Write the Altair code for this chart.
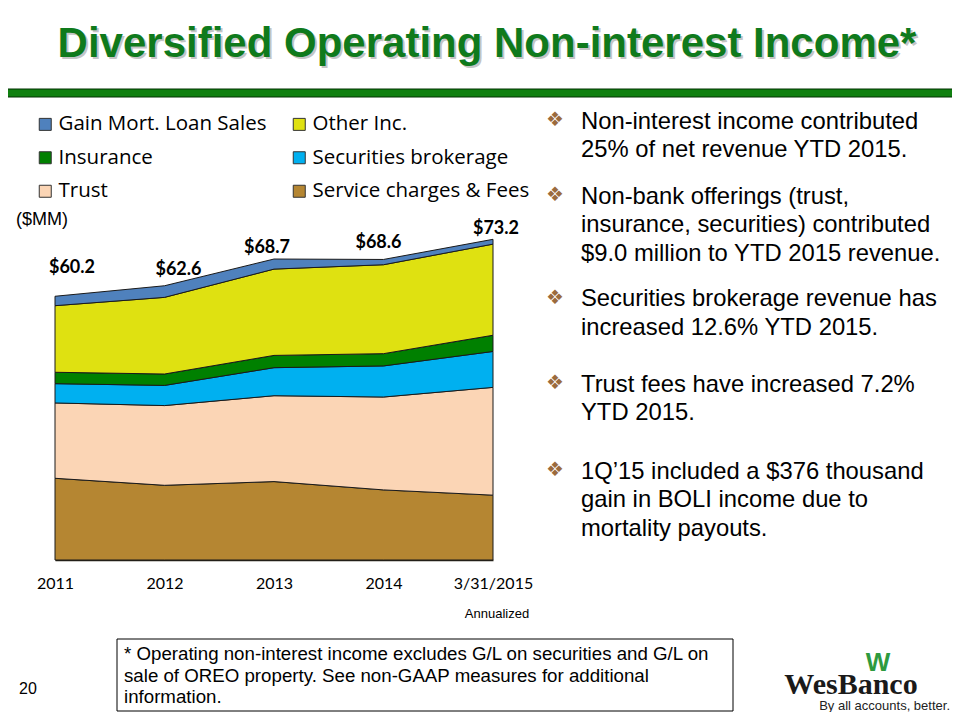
import altair as alt
import pandas as pd

# ---------------- data ----------------
YEARS = ["2011", "2012", "2013", "2014", "3/31/2015"]
SERVICE = [18.65, 17.05, 17.9, 16.0, 14.8]
TRUST = [17.2, 18.2, 19.6, 21.2, 24.6]
SECURITIES = [4.4, 4.6, 6.4, 7.1, 8.2]
INSURANCE = [2.6, 2.6, 2.8, 2.8, 3.7]
OTHER = [15.2, 17.5, 19.7, 20.3, 20.8]
GAIN = [2.15, 2.65, 2.3, 1.2, 1.1]
TOTALS = [60.2, 62.6, 68.7, 68.6, 73.2]

SERIES_NAMES = ["Service charges & Fees", "Trust", "Securities brokerage",
                "Insurance", "Other Inc.", "Gain Mort. Loan Sales"]
SERIES_VALUES = [SERVICE, TRUST, SECURITIES, INSURANCE, OTHER, GAIN]

# legend fills column by column: (Gain | Other), (Insurance | Securities), (Trust | Service)
LEGEND_ORDER = ["Gain Mort. Loan Sales", "Insurance", "Trust",
                "Other Inc.", "Securities brokerage", "Service charges & Fees"]
LEGEND_COLORS = ["#4F81BD", "#008000", "#FBD5B5", "#DFE111", "#00B0F0", "#B58632"]

rows = []
for si, (name, vals) in enumerate(zip(SERIES_NAMES, SERIES_VALUES)):
    for yr, v in zip(YEARS, vals):
        rows.append({"year": yr, "series": name, "value": v, "stack": si})
df = pd.DataFrame(rows)
tot_df = pd.DataFrame({"year": YEARS, "total": TOTALS,
                       "label": [f"${t:.1f}" for t in TOTALS]})

# ---------------- layout helpers ----------------
X0, Y0 = 55, 100          # page position of the plot origin
W, H = 438, 460


def px(x):
    return x - X0


def py(y):
    return y - Y0


x_enc = alt.X("year:N", sort=YEARS,
              scale=alt.Scale(type="point", padding=0),
              axis=alt.Axis(title=None, labelAngle=0, labelFont="Lato",
                            labelFontSize=16, labelColor="black", ticks=False,
                            domainColor="#2b2416", domainWidth=1.5,
                            labelPadding=15, grid=False))
y_enc = alt.Y("value:Q", stack="zero",
              scale=alt.Scale(domain=[0, 105], nice=False), axis=None)

areas = alt.Chart(df).mark_area(stroke="#1a1a1a", strokeWidth=1, opacity=1).encode(
    x=x_enc,
    y=y_enc,
    color=alt.Color("series:N",
                    scale=alt.Scale(domain=LEGEND_ORDER, range=LEGEND_COLORS),
                    legend=alt.Legend(title=None, orient="none",
                                      legendX=px(35), legendY=py(114),
                                      columns=2, symbolType="square",
                                      symbolSize=144, symbolStrokeColor="#333333",
                                      symbolStrokeWidth=1, symbolOpacity=1,
                                      labelFont="Open Sans", labelFontSize=20.5,
                                      labelColor="black", labelOffset=3,
                                      rowPadding=12.5, columnPadding=22,
                                      padding=0, labelLimit=400)),
    order=alt.Order("stack:Q", sort="ascending"),
)

# total labels (per-label nudges are styling only)
LABEL_DX = [17, 14, -7, -5, 3]
LABEL_DY = [-28, -16, -11, -16, -10]
label_layers = []
for yr, ddx, ddy in zip(YEARS, LABEL_DX, LABEL_DY):
    label_layers.append(
        alt.Chart(tot_df).transform_filter(alt.datum.year == yr)
        .mark_text(font="Lato", fontSize=18, fontWeight="bold", color="black",
                   dx=ddx, dy=ddy, baseline="middle", align="center")
        .encode(x=alt.X("year:N", sort=YEARS), y=alt.Y("total:Q"), text="label:N")
    )

# ---------------- annotations ----------------
base = alt.Chart(pd.DataFrame({"k": [0]}))


def txt(text, x, y, **kw):
    return base.mark_text(text=text, **kw).encode(x=alt.value(px(x)), y=alt.value(py(y)))


TITLE = "Diversified Operating Non-interest Income*"
title_font = "Liberation Sans Narrow, Arial Narrow, Liberation Sans"
title_shadow = txt(TITLE, 489, 59, font=title_font, fontSize=42, fontWeight="bold",
                   color="#8c8c8c", opacity=0.5, align="center", baseline="alphabetic")
title = txt(TITLE, 487, 57, font=title_font, fontSize=42, fontWeight="bold",
            color="#0F7A1C", align="center", baseline="alphabetic")

green_bar = base.mark_rect(fill="#108010", stroke="#003300", strokeWidth=1).encode(
    x=alt.value(px(-5)), x2=alt.value(px(965)), y=alt.value(py(89)), y2=alt.value(py(97)))

mm = txt("($MM)", 42, 220, font="Liberation Sans", fontSize=18, color="black",
         align="center", baseline="middle")
annual = txt("Annualized", 497, 614, font="Liberation Sans", fontSize=13,
             color="black", align="center", baseline="middle")

BULLETS = [
    (["Non-interest income contributed", "25% of net revenue YTD 2015."], 128.5),
    (["Non-bank offerings (trust,", "insurance, securities) contributed",
      "$9.0 million to YTD 2015 revenue."], 203.5),
    (["Securities brokerage revenue has", "increased 12.6% YTD 2015."], 306),
    (["Trust fees have increased 7.2%", "YTD 2015."], 391.5),
    (["1Q\u201915 included a $376 thousand", "gain in BOLI income due to",
      "mortality payouts."], 478.5),
]
bullet_layers = []
for lines, base_y in BULLETS:
    bullet_layers.append(txt(lines, 581, base_y, font="Liberation Sans", fontSize=23.8,
                             color="black", align="left", baseline="alphabetic",
                             lineHeight=28.5))
    bullet_layers.append(txt("\u2756", 555, base_y - 8.5, font="DejaVu Sans", fontSize=20,
                             color="#9B6B3D", align="center", baseline="middle"))

foot_box = base.mark_rect(fill="white", stroke="black", strokeWidth=1).encode(
    x=alt.value(px(117)), x2=alt.value(px(733)), y=alt.value(py(639)), y2=alt.value(py(711)))
foot = txt(["* Operating non-interest income excludes G/L on securities and G/L on",
            "sale of OREO property. See non-GAAP measures for additional",
            "information."], 124, 660, font="Liberation Sans", fontSize=18.7,
           color="black", align="left", baseline="alphabetic", lineHeight=21.5)
page_no = txt("20", 28, 689, font="Liberation Sans", fontSize=16, color="black",
              align="center", baseline="middle")

logo_w = txt("W", 878, 671, font="Liberation Sans", fontSize=26, fontWeight="bold",
             color="#2E9A3E", align="center", baseline="alphabetic")
logo_name = txt("WesBanco", 851, 694, font="Liberation Serif", fontSize=30,
                fontWeight="bold", color="#1a1a1a", align="center", baseline="alphabetic")
logo_tag = txt("By all accounts, better.", 950, 710, font="Liberation Sans", fontSize=13,
               color="#222222", align="right", baseline="alphabetic")

chart = alt.layer(
    green_bar, title_shadow, title, areas, *label_layers, mm, annual,
    *bullet_layers, foot_box, foot, page_no, logo_w, logo_name, logo_tag,
).properties(
    width=W, height=H,
    autosize=alt.AutoSizeParams(type="none"),
    padding={"left": X0 - 8, "top": Y0 - 8, "right": 944 - (X0 - 8) - W,
             "bottom": 704 - (Y0 - 8) - H},
).configure(background="white", view=alt.ViewConfig(stroke=None))

chart.save("out.html", embed_options={"renderer": "svg", "actions": False})
